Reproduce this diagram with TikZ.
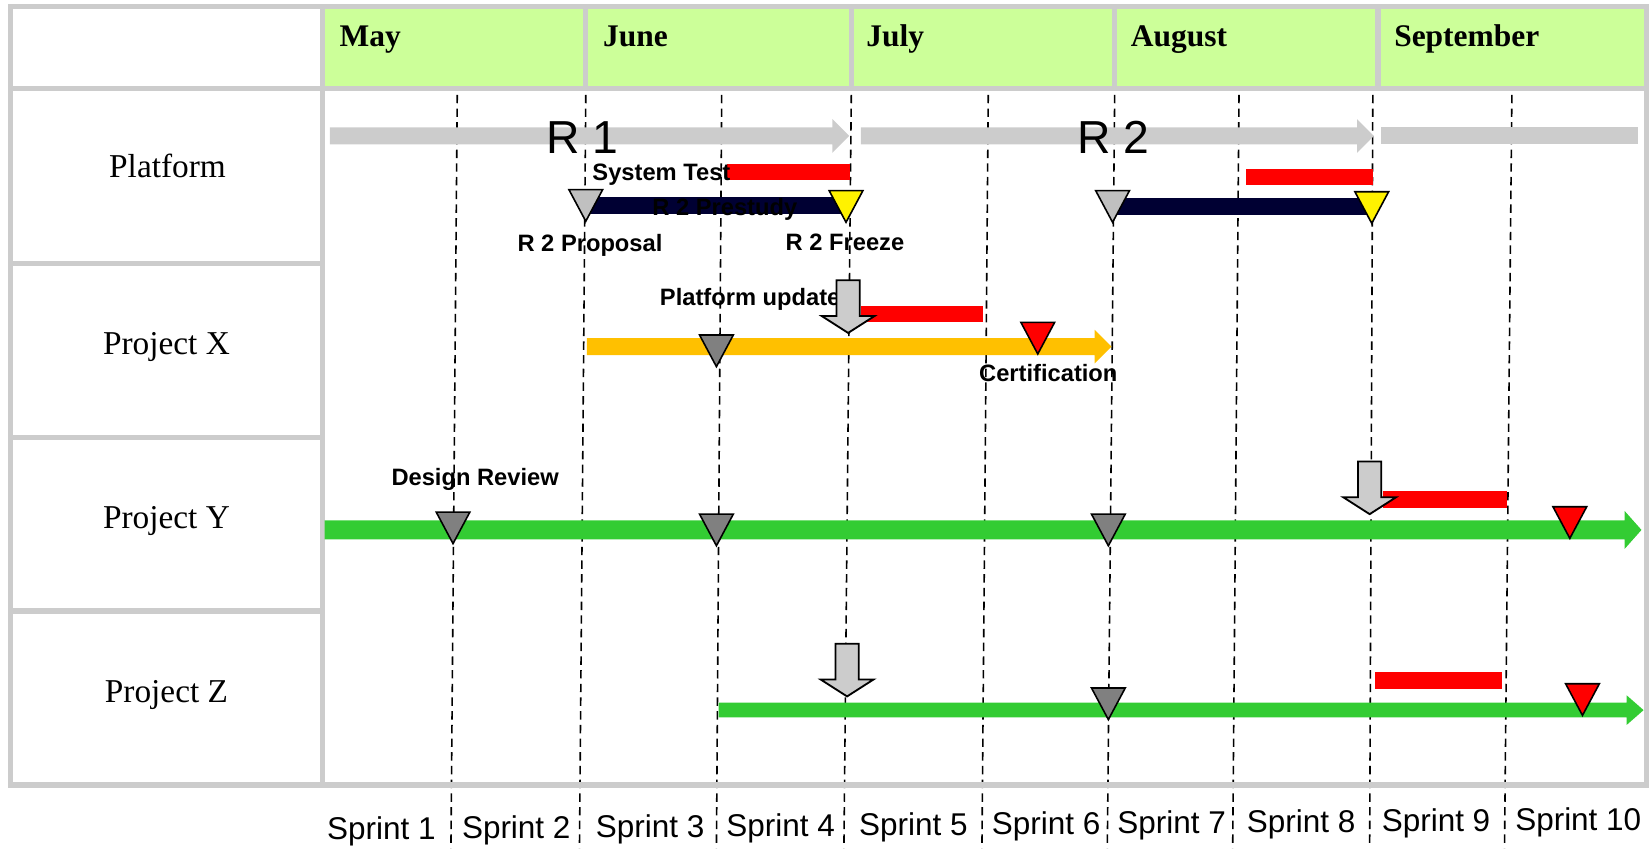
\documentclass[tikz,border=0pt]{standalone}
\usepackage{fontspec}
\setmainfont{Liberation Serif}
\setsansfont{Liberation Sans}
\usetikzlibrary{positioning}
\definecolor{framegray}{RGB}{204,204,204}
\definecolor{headgreen}{RGB}{204,255,153}
\definecolor{bargray}{RGB}{204,204,204}
\definecolor{stonegray}{RGB}{192,192,192}
\definecolor{darkstone}{RGB}{128,128,128}
\definecolor{prenavy}{RGB}{0,0,51}
\definecolor{certorange}{RGB}{255,192,0}
\definecolor{lanegreen}{RGB}{51,204,51}

% colour, start, end, y centre, half thickness
\newcommand{\phasebar}[5]{%
  \fill[#1] (#2,{#4-#5}) -- ({#3-16},{#4-#5}) -- ({#3-16},{#4-2*#5}) -- (#3,#4)
    -- ({#3-16},{#4+2*#5}) -- ({#3-16},{#4+#5}) -- (#2,{#4+#5}) -- cycle;}

\begin{document}
\begin{tikzpicture}[x=0.2mm, y=-0.2mm,
    grid/.style={draw=framegray, line width=1mm},
    sprintline/.style={black, line width=0.3mm, dash pattern=on 1.6mm off 1mm},
    month/.style={anchor=base west, inner sep=0pt, font=\bfseries\fontsize{17}{20}\selectfont},
    lane/.style={anchor=base, inner sep=0pt, font=\fontsize{18}{22}\selectfont},
    sprint/.style={anchor=base, inner sep=0pt, font=\sffamily\fontsize{17}{20}\selectfont},
    release/.style={anchor=base, inner sep=0pt, font=\sffamily\fontsize{25}{30}\selectfont},
    tag/.style={anchor=base, inner sep=0pt, font=\sffamily\bfseries\fontsize{12.8}{15}\selectfont},
    mstone/.pic={\draw[line width=0.3mm, pic actions] (-16,0) -- (16,0) -- (0,30) -- cycle;},
    drop/.pic={\draw[fill=bargray, line width=0.35mm] (-11,0) -- (11,0) -- (11,34) -- (25,34)
        -- (0,50) -- (-25,34) -- (-11,34) -- cycle;}
  ]
  \useasboundingbox (0,0) rectangle (1568,808);
  \fill[headgreen] (308,8) rectangle (1563,84);

  % sprint boundaries
  \foreach \xt/\xb in {434/428, 556/550, 685/680, 808/801, 938/932, 1058/1051, 1176/1170, 1303/1300, 1435/1428}
    \draw[sprintline] (\xt,90) -- (\xb,805);

  % table frame
  \draw[grid] (10,6) rectangle (1563,745);
  \draw[grid] (306,6) -- (306,745);
  \draw[grid] (10,84) -- (1563,84);
  \foreach \y in {250,415,580} \draw[grid] (10,\y) -- (306,\y);
  \foreach \x in {556,808,1058,1308} \draw[grid] (\x,6) -- (\x,84);

  \node[month] (may) at (322,44) {May};
  \node[month] (june) at (572,44) {June};
  \node[month] (july) at (822,44) {July};
  \node[month] (aug) at (1073,44) {August};
  \node[month] (sep) at (1323,44) {September};

  \node[lane] (platform) at (159,168) {Platform};
  \node[lane] (projx) at (158,336) {Project X};
  \node[lane] (projy) at (158,502) {Project Y};
  \node[lane] (projz) at (158,667) {Project Z};

  \foreach \x [count=\i] in {362,490,617,741,867,993,1112,1235,1363,1498}
    \node[sprint] (sprint\i) at (\x,{798-\i}) {Sprint \i};

  % platform releases
  \phasebar{bargray}{313}{806}{129}{8}
  \phasebar{bargray}{817}{1304}{129}{8}
  \fill[bargray] (1311,121) rectangle (1555,137);
  \node[release] (r1) at (553,146) {R 1};
  \node[release] (r2) at (1057,146) {R 2};

  \fill[red] (690,156) rectangle (807,171);
  \fill[red] (1183,160) rectangle (1303,176);
  \fill[prenavy] (556,187) rectangle (805,203);
  \fill[prenavy] (1058,188) rectangle (1300,204);
  \node[tag, anchor=base west] (systest) at (562,171) {System Test};
  \node[tag] (prestudy) at (688,205) {R 2 Prestudy};
  \pic[fill=stonegray] (prop1) at (556,180) {mstone};
  \pic[fill=yellow] (frz1) at (803,181) {mstone};
  \pic[fill=stonegray] (prop2) at (1056,181) {mstone};
  \pic[fill=yellow] (frz2) at (1302,182) {mstone};
  \node[tag] (proposal) at (560,239) {R 2 Proposal};
  \node[tag] (freeze) at (802,238) {R 2 Freeze};

  % project X
  \fill[red] (817,290) rectangle (933,306);
  \phasebar{certorange}{557}{1055}{329}{8}
  \node[tag] (update) at (712,290) {Platform update};
  \pic (upd1) at (805,266) {drop};
  \pic[fill=darkstone] (x1) at (680,318) {mstone};
  \pic[fill=red] (cert) at (985,306) {mstone};
  \node[tag] (certlab) at (995,362) {Certification};

  % project Y
  \phasebar{lanegreen}{308}{1558}{503}{9}
  \fill[red] (1313,466) rectangle (1430,482);
  \pic (upd2) at (1300,438) {drop};
  \node[tag] (review) at (451,461) {Design Review};
  \pic[fill=darkstone] (y1) at (430,486) {mstone};
  \pic[fill=darkstone] (y2) at (680,488) {mstone};
  \pic[fill=darkstone] (y3) at (1052,488) {mstone};
  \pic[fill=red] (y4) at (1490,481) {mstone};

  % project Z
  \phasebar{lanegreen}{682}{1560}{674}{7}
  \pic (upd3) at (804,611) {drop};
  \pic[fill=darkstone] (z1) at (1052,653) {mstone};
  \fill[red] (1305,638) rectangle (1426,654);
  \pic[fill=red] (z2) at (1502,649) {mstone};
\end{tikzpicture}
\end{document}
